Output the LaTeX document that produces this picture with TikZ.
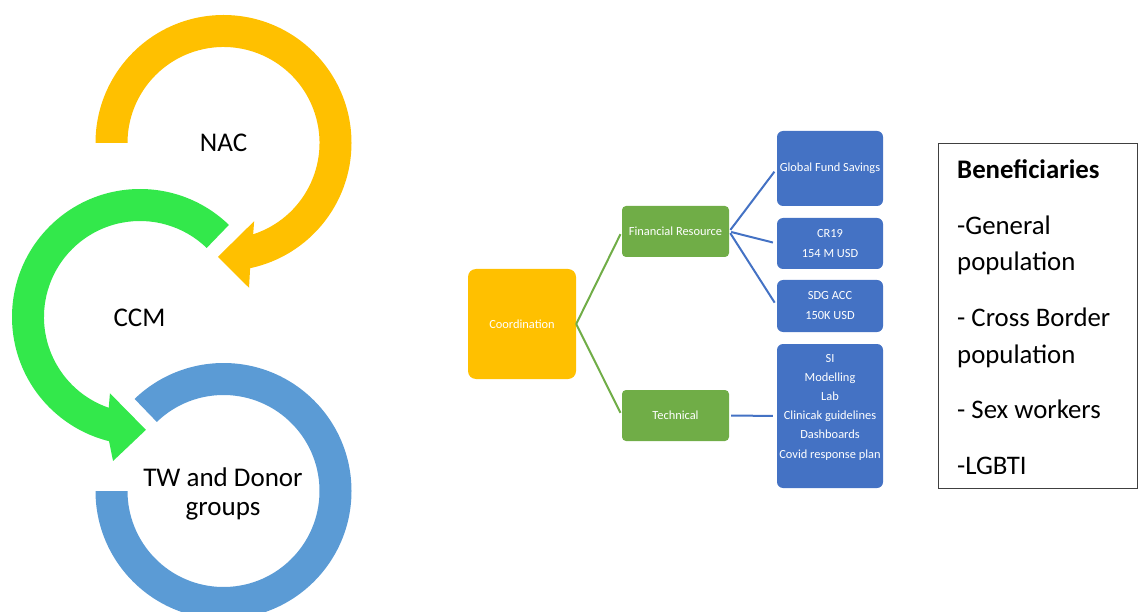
\documentclass[tikz,border=0pt]{standalone}
\usepackage{fontspec}
\setmainfont{Carlito}
\definecolor{arcorange}{HTML}{FFC000}
\definecolor{arcgreen}{HTML}{33E84B}
\definecolor{arcblue}{HTML}{5B9BD5}
\definecolor{treeblue}{HTML}{4472C4}
\definecolor{treegreen}{HTML}{70AD47}
\definecolor{boxgray}{HTML}{404040}
\begin{document}
\begin{tikzpicture}[x=1pt,y=1pt,
  bigtext/.style={inner sep=0pt, font=\fontsize{27}{28.5}\selectfont, text=black},
  bentext/.style={inner sep=0pt, anchor=base west, font=\fontsize{26.8}{32}\selectfont, text=black},
  treetext/.style={text=white, font=\fontsize{12.4}{19.5}\selectfont, align=center, inner sep=1pt},
  coordbox/.style={treetext, fill=arcorange, rounded corners=8pt, minimum width=108pt, minimum height=110pt},
  greenbox/.style={treetext, fill=treegreen, rounded corners=4pt, minimum width=107pt, minimum height=51pt},
  bluebox/.style={treetext, fill=treeblue, rounded corners=6pt, minimum width=106pt, font=\fontsize{12.4}{20}\selectfont},
  greenline/.style={treegreen, line width=2pt, shorten >=3pt},
  blueline/.style={treeblue, line width=2pt, shorten <=2pt, shorten >=4pt}
]
\useasboundingbox (0,0) rectangle (1139,611);
\clip (0,0) rectangle (1139,611);

% ---- cycle of arcs ----
\begin{scope}[shift={(223.5,468)}]
\fill[arcorange] (180:128pt) arc[start angle=180,end angle=-78,radius=128pt]
  -- (-80:147pt) -- (-92.8:114pt) -- (-68.6:84pt) -- (-72:96pt)
  arc[start angle=-72,end angle=180,radius=96pt] -- cycle;
\end{scope}
\begin{scope}[shift={(140,294)}]
\fill[arcgreen] (46:128pt) arc[start angle=46,end angle=256,radius=128pt]
  -- (259.4:146.5pt) -- (273:113pt) -- (248.5:82pt) -- (251:96pt)
  arc[start angle=251,end angle=46,radius=96pt] -- cycle;
\end{scope}
\begin{scope}[shift={(223.5,120)}]
\fill[arcblue] (180:128pt) arc[start angle=180,end angle=494,radius=128pt]
  -- (134:96pt) arc[start angle=134,end angle=-180,radius=96pt] -- cycle;
\end{scope}

\node[bigtext, anchor=base] (nac) at (223.5,459) {NAC};
\node[bigtext, anchor=base] (ccm) at (139.5,285) {CCM};
\node[bigtext, align=center] (tw) at (223,117) {TW and Donor\\groups};

% ---- tree ----
\node[coordbox] (coord) at (522,287) {Coordination};
\node[greenbox] (fin) at (675.5,379.5) {Financial Resource};
\node[greenbox] (tech) at (675.5,195.5) {Technical};
\node[bluebox, minimum height=75pt] (gfs) at (830,442.5) {Global Fund Savings};
\node[bluebox, minimum height=51pt] (cr) at (830,367.5) {CR19\\154 M USD};
\node[bluebox, minimum height=52pt] (sdg) at (830,305) {SDG ACC\\150K USD};
\node[bluebox, minimum height=144pt] (si) at (830,195) {};
\node[treetext, font=\fontsize{12.4}{19.2}\selectfont] (sitext) at (830,204) {SI\\Modelling\\Lab\\Clinicak guidelines\\Dashboards\\Covid response plan};

\draw[greenline] (coord.east) -- (fin.west);
\draw[greenline] (coord.east) -- (tech.west);
\draw[blueline] (fin.east) -- (gfs.west);
\draw[blueline] (fin.east) -- (cr.west);
\draw[blueline] (fin.east) -- (sdg.west);
\draw[blueline] (tech.east) -- (si.west);

% ---- beneficiaries ----
\draw[boxgray, line width=1pt] (938.5,467.5) rectangle (1137.5,122.5);
\node[bentext, font=\bfseries\fontsize{26.8}{32}\selectfont] (b0) at (957,432) {Beneficiaries};
\node[bentext] (b1) at (957,376) {-General};
\node[bentext] (b2) at (957,340) {population};
\node[bentext] (b3) at (957,285) {- Cross Border};
\node[bentext] (b4) at (957,248) {population};
\node[bentext] (b5) at (957,193) {- Sex workers};
\node[bentext] (b6) at (957,137) {-LGBTI};
\end{tikzpicture}
\end{document}
